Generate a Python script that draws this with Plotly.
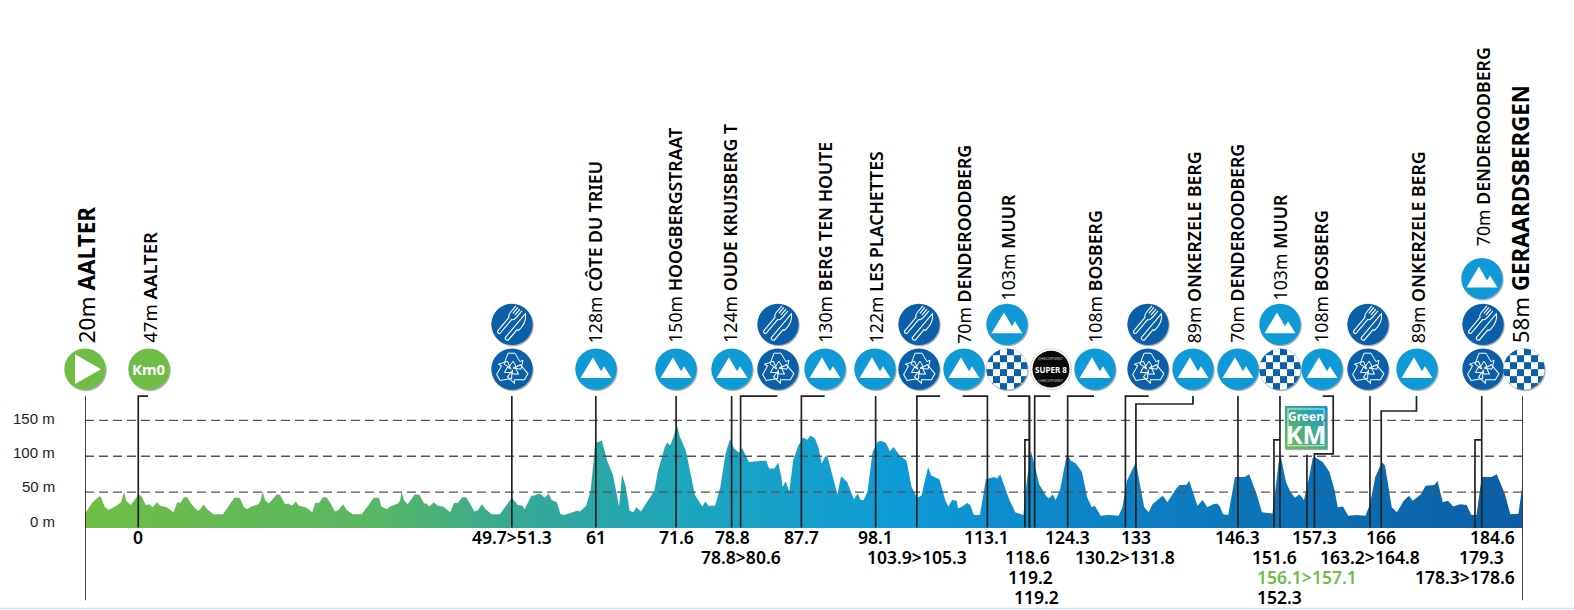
import base64
import plotly.graph_objects as go

# profile
km = [-7.1, -6.1, -5.2, -5.0, -4.5, -4.0, -2.9, -2.3, -1.9, -1.6, -1.0, 0, 0.4, 1.0, 1.5, 1.9, 2.5, 2.9, 3.8, 4.7,
      5.2, 5.6, 6.1, 6.5, 7.1, 7.9, 8.2, 8.7, 9.2, 10.0, 11.3, 12.8, 13.5, 14.1, 14.5, 15.1, 16.0, 16.3, 16.6, 16.9,
      17.4, 18.5, 18.9, 19.6, 20.0, 20.5, 21.0, 21.4, 22.3, 23.2, 23.6, 24.1, 24.6, 25.1, 25.7, 26.2, 26.7, 27.3, 27.8, 28.6,
      29.8, 31.4, 32.1, 32.4, 33.1, 33.6, 34.6, 34.9, 35.1, 35.4, 35.9, 36.9, 37.5, 38.1, 38.4, 38.8, 39.4, 39.9, 40.6, 41.6,
      42.1, 42.6, 43.2, 43.7, 44.4, 44.8, 45.3, 45.8, 46.3, 47.1, 48.2, 49.8, 50.6, 51.2, 51.5, 52.4, 52.7, 53.5, 54.2, 54.7,
      55.1, 55.8, 56.3, 56.8, 58.5, 58.9, 59.7, 60.3, 60.7, 60.9, 61.8, 62.5, 63.3, 63.9, 64.1, 64.5, 65.0, 65.5, 66.0, 66.4,
      67.0, 68.8, 69.3, 70.2, 70.5, 70.9, 71.3, 71.8, 72.2, 73.0, 73.8, 74.2, 75.2, 75.6, 76.0, 76.9, 77.6, 78.3, 78.9, 79.4,
      80.1, 80.5, 81.4, 83.0, 83.7, 84.1, 84.8, 85.3, 85.7, 85.9, 86.3, 86.8, 87.3, 88.0, 88.4, 88.6, 89.2, 89.6, 90.2, 90.7,
      91.1, 91.6, 91.9, 92.5, 93.2, 93.7, 94.5, 95.4, 95.9, 96.3, 96.7, 97.2, 97.9, 98.6, 99.2, 99.7, 100.2, 100.7, 101.5, 102.4,
      103.1, 103.8, 104.4, 105.3, 105.7, 106.8, 107.6, 108.0, 108.5, 109.1, 109.3, 110.0, 110.5, 110.9, 111.4, 112.2, 113.0, 114.1, 114.5, 114.9,
      116.1, 116.9, 118.0, 118.4, 119.0, 119.4, 120.1, 121.0, 121.4, 121.9, 122.3, 122.9, 123.8, 124.3, 125.0, 125.8, 126.5, 127.1, 127.5, 128.3,
      129.3, 130.7, 131.2, 131.8, 133.0, 133.6, 134.1, 134.7, 135.2, 136.3, 136.6, 137.2, 138.3, 138.8, 139.7, 140.1, 140.8, 141.2, 141.9, 142.5,
      143.3, 143.8, 144.2, 144.6, 145.3, 146.2, 147.5, 148.1, 149.1, 149.8, 151.2, 151.8, 152.2, 152.5, 153.0, 153.6, 154.2, 154.8, 155.4, 155.9,
      156.6, 157.0, 157.9, 158.8, 159.5, 159.9, 160.6, 161.3, 162.4, 163.6, 164.2, 164.9, 165.8, 166.2, 167.1, 167.8, 168.7, 169.4, 169.9, 171.0,
      171.6, 172.8, 173.2, 173.9, 174.6, 175.3, 176.2, 177.1, 177.7, 178.4, 179.1, 180.4, 181.1, 182.2, 182.9, 184.0, 184.5]
elevation = [20, 36, 44, 44, 30, 25, 31, 36, 50, 38, 32, 46, 45, 32, 33, 29, 36, 31, 29, 22,
             36, 35, 43, 43, 33, 24, 25, 33, 26, 19, 19, 42, 42, 29, 26, 30, 33, 38, 51, 39,
             34, 47, 46, 33, 34, 31, 37, 31, 29, 22, 35, 35, 43, 43, 33, 23, 25, 33, 25, 19,
             19, 42, 42, 30, 26, 30, 34, 38, 51, 39, 33, 47, 46, 34, 34, 30, 36, 31, 30, 22,
             35, 35, 43, 43, 31, 23, 25, 33, 26, 19, 19, 42, 32, 31, 26, 45, 45, 48, 42, 48,
             39, 36, 19, 18, 24, 23, 31, 52, 94, 118, 122, 94, 73, 43, 30, 75, 57, 24, 22, 29,
             23, 52, 80, 113, 119, 115, 125, 144, 127, 108, 66, 46, 30, 37, 31, 31, 57, 104, 124, 111,
             105, 111, 92, 94, 94, 83, 83, 91, 73, 57, 65, 51, 94, 115, 121, 126, 123, 129, 125, 111,
             90, 100, 99, 75, 47, 72, 64, 40, 48, 39, 39, 50, 106, 121, 121, 118, 107, 113, 101, 94,
             57, 42, 45, 85, 73, 68, 38, 30, 39, 38, 27, 31, 35, 32, 18, 18, 68, 71, 69, 75,
             40, 22, 18, 61, 107, 92, 61, 45, 41, 47, 39, 54, 103, 94, 90, 78, 43, 29, 31, 17,
             18, 17, 29, 66, 92, 57, 29, 22, 33, 43, 45, 36, 54, 60, 60, 66, 43, 31, 39, 29,
             33, 34, 30, 19, 18, 71, 71, 75, 47, 22, 20, 71, 106, 90, 64, 50, 42, 47, 39, 61,
             99, 98, 92, 78, 52, 29, 30, 17, 18, 17, 33, 71, 92, 87, 29, 22, 38, 45, 38, 47,
             59, 60, 66, 36, 38, 30, 33, 32, 18, 18, 71, 71, 75, 47, 19, 20, 59]

grid_levels = [50, 100, 150]
tick_text = ["0 m", "50 m", "100 m", "150 m"]
tick_px = [522, 487, 453, 419]

climb_labels = [("128m", "CÔTE DU TRIEU"), ("150m", "HOOGBERGSTRAAT"), ("124m", "OUDE KRUISBERG T"),
                ("130m", "BERG TEN HOUTE"), ("122m", "LES PLACHETTES"), ("70m", "DENDEROODBERG"),
                ("103m", "MUUR"), ("108m", "BOSBERG"), ("89m", "ONKERZELE BERG"), ("70m", "DENDEROODBERG"),
                ("103m", "MUUR"), ("108m", "BOSBERG"), ("89m", "ONKERZELE BERG"), ("70m", "DENDEROODBERG")]
climb_px = [595, 675, 730, 825, 876, 964, 1008, 1095, 1194, 1237, 1280, 1321, 1418, 1483]
climb_bottom = [344, 344, 344, 344, 344, 344, 301, 344, 344, 344, 301, 344, 344, 247]

km_row1 = ["0", "49.7>51.3", "61", "71.6", "78.8", "87.7", "98.1", "113.1", "124.3", "133", "146.3", "157.3", "166", "184.6"]
km_row1_pos = [0, 49.8, 61, 71.8, 79.2, 88.4, 98.3, 113.1, 123.9, 133, 146.5, 156.8, 165.7, 180.6]
km_row2 = ["78.8>80.6", "103.9>105.3", "118.6", "130.2>131.8", "151.6", "163.2>164.8", "179.3"]
km_row2_pos = [80.3, 103.8, 118.5, 131.6, 151.5, 164.2, 179.1]
km_row3 = ["119.2", "156.1>157.1", "178.3>178.6"]
km_row3_pos = [119.0, 155.8, 176.9]
km_row4 = ["119.2", "152.3"]
km_row4_pos = [119.7, 152.2]

straight_stems = [49.8, 61.0, 71.7, 79.1, 98.3, 146.6, 152.2, 164.2, 179.1]
elbow_stems = [(0, 1.3), (80.3, 85.2), (88.4, 91.5), (103.8, 106.9), (113.2, 109.9), (118.8, 115.9),
               (119.5, 121.6), (123.9, 127.4), (131.6, 134.7)]

PLOT_L, PLOT_R, PLOT_B, PLOT_T = 85, 1523, 528.5, 406
GREEN, SKY, NAVY = "#6fbd45", "#0f9ad7", "#0a5fa8"
ICON = 46


def px(x):
    return (x - PLOT_L) / (PLOT_R - PLOT_L)


def py(y):
    return (PLOT_B - y) / (PLOT_B - PLOT_T)


def poly(points):
    return "M " + " L ".join(f"{x},{py(y)}" for x, y in points)


def svg_uri(body, box="-23 -23 46 46"):
    svg = f'<svg xmlns="http://www.w3.org/2000/svg" viewBox="{box}">{body}</svg>'
    return "data:image/svg+xml;base64," + base64.b64encode(svg.encode()).decode()


def disc(colour, r=20.7):
    return (f'<circle cx="1" cy="1.4" r="{r}" fill="#000" opacity=".3"/>'
            f'<circle r="{r}" fill="{colour}"/>')


arrow = ('<path d="M-4 -15 L3 -15 L8 -6.5 L11 -8 L9 1 L1 0 L4 -2 L1 -7 L-3 -1 L-8 -4 Z" '
         'fill="none" stroke="#fff" stroke-width="1"/>')
recycle = disc(NAVY) + "".join(f'<g transform="rotate({a}) translate(0 -1)">{arrow}</g>' for a in (0, 120, 240))
cutlery = disc(NAVY) + ('<g transform="rotate(40) scale(1.12)" fill="none" stroke="#fff" stroke-width="1">'
                        '<path d="M-8 -15 L-8 -8 Q-8 -4 -6 -3 L-6 13 Q-4 15 -3 13 L-3 -3 Q-1 -4 -1 -8 L-1 -15 '
                        'M-5.7 -15 L-5.7 -8 M-3.3 -15 L-3.3 -8"/>'
                        '<path d="M3 -15 Q9 -10 8 0 L6.5 1 L6.5 13 Q4.5 15 3 13 Z"/></g>')
mountain = disc(SKY) + '<path d="M-15.5 9 L-3 -12 L5 2 L8 -3 L15.5 9 Z" fill="#fff"/>'
squares = "".join(f'<rect x="{-21 + 7 * c}" y="{-21 + 7 * r}" width="7" height="7" fill="#fff"/>'
                  for r in range(6) for c in range(6) if (r + c) % 2 == 0)
checker = ('<clipPath id="c"><circle r="20.7"/></clipPath>' + disc(NAVY)
           + f'<g clip-path="url(#c)">{squares}</g>')
start_icon = disc(GREEN) + '<path d="M-10 -15 L16 0 L-10 15 Z" fill="#fff"/>'
km0_icon = disc(GREEN)
super8 = '<circle r="20.5" fill="#fff" stroke="#bbb" stroke-width=".6"/><circle r="18.5" fill="#0a0a0a"/>'
sign = ('<defs><linearGradient id="g" x1="1" y1="0" x2="0" y2="1"><stop offset="0" stop-color="#0f9ad7"/>'
        '<stop offset="1" stop-color="#6fbd45"/></linearGradient></defs>'
        '<rect x="1" y="1.4" width="42" height="43" fill="#000" opacity=".35"/>'
        '<rect width="42" height="43" fill="url(#g)"/>'
        '<rect x="3" y="3" width="36" height="37" fill="none" stroke="#fff" stroke-width=".8"/>')

icons = [(start_icon, 85, 369), (km0_icon, 149, 369),
         (recycle, 512, 369), (cutlery, 512, 324), (mountain, 596, 369), (mountain, 676, 369), (mountain, 732, 369),
         (recycle, 778, 369), (cutlery, 778, 324), (mountain, 825, 369), (mountain, 875, 369), (recycle, 919, 369),
         (cutlery, 919, 324), (mountain, 964, 369), (checker, 1007, 369), (mountain, 1007, 324), (super8, 1051, 369),
         (mountain, 1095, 369), (recycle, 1148, 369), (cutlery, 1148, 324), (mountain, 1193, 369), (mountain, 1238, 369),
         (checker, 1280, 369), (mountain, 1280, 324), (mountain, 1322, 369), (recycle, 1368, 369), (cutlery, 1368, 324),
         (mountain, 1417, 369), (recycle, 1483, 369), (cutlery, 1483, 324), (mountain, 1482, 278), (checker, 1524, 369)]

fig = go.Figure()
fig.add_trace(go.Scatter(
    x=km, y=elevation, mode="lines", line=dict(width=0), fill="tozeroy", hoverinfo="skip",
    fillgradient=dict(type="horizontal", colorscale=[
        [0, "#6fbe44"], [0.2, "#58b763"], [0.3, "#35a995"], [0.42, "#1ca5bd"],
        [0.57, "#0e9ad8"], [0.72, "#0d80c4"], [1, "#0a5da5"]])))

shapes = []
for level in grid_levels:
    shapes.append(dict(type="line", xref="x", yref="y", x0=km[0], x1=184.6, y0=level, y1=level, layer="above",
                       line=dict(color="#555", width=1.3, dash="9px,5px")))


def stem(points):
    shapes.append(dict(type="path", xref="x", yref="paper", path=poly(points), layer="above",
                       line=dict(color="#222", width=1.7)))


for k in straight_stems:
    stem([(k, 528), (k, 396)])
for k, end in elbow_stems:
    stem([(k, 528), (k, 396), (end, 396)])
stem([(-7.1, 601), (-7.1, 396)])
stem([(184.6, 601), (184.6, 396)])
stem([(118.2, 528), (118.2, 440), (118.8, 440)])
stem([(118.8, 528), (118.8, 396)])
stem([(133.0, 528), (133.0, 404), (140.6, 404), (140.6, 396)])
stem([(151.4, 528), (151.4, 440), (152.2, 440)])
stem([(155.8, 528), (155.8, 455)])
stem([(156.8, 528), (156.8, 454), (159.3, 454), (159.3, 396), (157.9, 396)])
stem([(165.7, 528), (165.7, 411), (170.4, 411), (170.4, 396)])
stem([(178.2, 528), (178.2, 440), (179.1, 440)])
shapes.append(dict(type="rect", xref="paper", yref="paper", x0=px(0), x1=px(1574), y0=py(608.5), y1=py(610),
                   fillcolor="#cfe6f2", line_width=0))

images = [dict(source=svg_uri(body), xref="paper", yref="paper", x=px(x), y=py(y), sizex=ICON / (PLOT_R - PLOT_L),
               sizey=ICON / (PLOT_B - PLOT_T), xanchor="center", yanchor="middle", sizing="stretch", layer="above")
          for body, x, y in icons]
images.append(dict(source=svg_uri(sign, "0 0 44 45"), xref="paper", yref="paper", x=px(1285), y=py(406),
                   sizex=44 / (PLOT_R - PLOT_L), sizey=45 / (PLOT_B - PLOT_T), xanchor="left", yanchor="top",
                   sizing="stretch", layer="above"))

FONT = "Noto Sans"
SEMI = '<span style="font-weight:600">%s</span>'
annotations = []


def note(text, x, y, size, colour="#000", angle=0, weight=None, xref="paper", xanchor="center", yanchor="middle",
         family=FONT):
    annotations.append(dict(text=text, x=x, y=y, xref=xref, yref="paper", showarrow=False, textangle=angle,
                            xanchor=xanchor, yanchor=yanchor, borderpad=0,
                            font=dict(family=family, size=size, color=colour, weight=weight)))


for label, y in zip(tick_text, tick_px):
    note(label, px(56), py(y), 15, colour="#222", xanchor="right", family="Liberation Sans")

for (height, name), x, bottom in zip(climb_labels, climb_px, climb_bottom):
    note(f"{height} {SEMI % name}", px(x), py(bottom), 17.7, angle=-90, yanchor="bottom")
note("20m <b>AALTER</b>", px(86), py(344), 22.5, angle=-90, yanchor="bottom")
note(f"47m {SEMI % 'AALTER'}", px(150), py(344), 18.5, angle=-90, yanchor="bottom")
note("58m <b>GERAARDSBERGEN</b>", px(1520), py(344), 22.3, angle=-90, yanchor="bottom")

for labels, positions, row in [(km_row1, km_row1_pos, 538), (km_row2, km_row2_pos, 558),
                               (km_row3, km_row3_pos, 578), (km_row4, km_row4_pos, 598)]:
    for label, pos in zip(labels, positions):
        colour = GREEN if label == "156.1>157.1" else "#000"
        note(label, pos, py(row), 17.5, colour=colour, weight=600, xref="x")

note("<b>Km0</b>", px(149), py(369), 15, colour="#fff")
note("<b>SUPER 8</b>", px(1051), py(369), 8, colour="#fff")
note("CHECKPOINT", px(1051), py(358), 4, colour="#ccc")
note("CHECKPOINT", px(1051), py(380), 4, colour="#ccc")
note("<b>Green</b>", px(1306), py(417), 12, colour="#fff")
note("<b>KM</b>", px(1306), py(434), 25, colour="#fff")

fig.update_layout(
    width=1574, height=610, showlegend=False, paper_bgcolor="white", plot_bgcolor="white",
    margin=dict(l=PLOT_L, r=1574 - PLOT_R, t=PLOT_T, b=610 - PLOT_B),
    shapes=shapes, images=images, annotations=annotations,
    xaxis=dict(range=[km[0], 184.6], visible=False),
    yaxis=dict(range=[0, 170], showgrid=False, zeroline=False, showticklabels=False, ticks=""),
)

fig.write_html("out.html", config={"displayModeBar": False}, post_script="document.body.style.margin='0';")
